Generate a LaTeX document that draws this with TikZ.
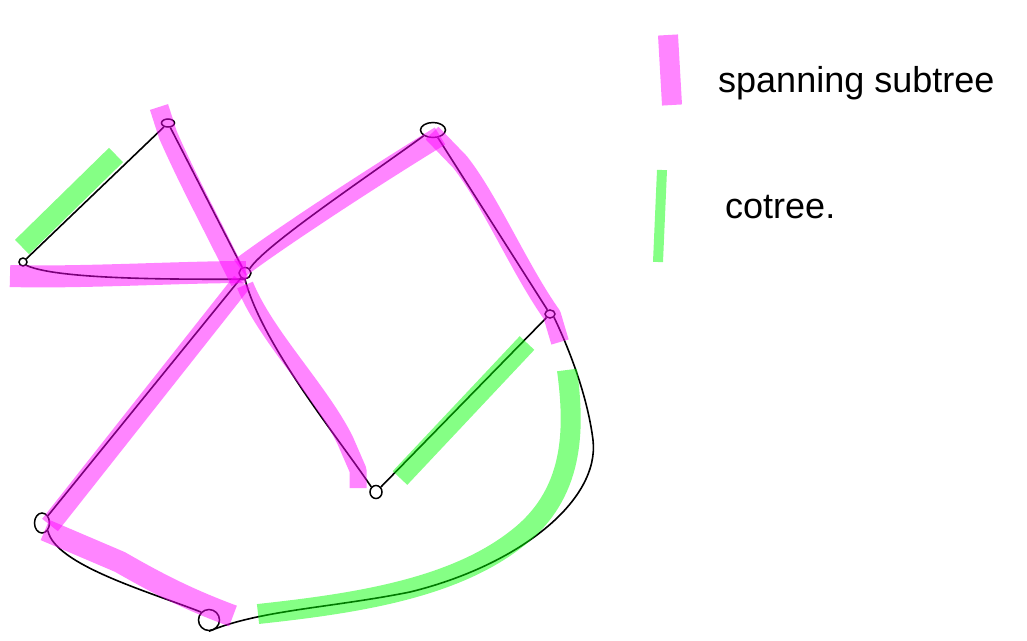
\documentclass[tikz,border=0pt]{standalone}
\usepackage{fontspec}
\setmainfont{Liberation Sans}
\usetikzlibrary{shapes.geometric}
\definecolor{hlpink}{RGB}{255,0,255}
\definecolor{hlgreen}{RGB}{0,255,0}
\begin{document}
\begin{tikzpicture}[x=1pt,y=-1pt,
  vtx/.style={draw,ellipse,inner sep=0pt,line width=1.5pt},
  edge/.style={line width=1.6pt,black},
  pink/.style={draw=hlpink,opacity=0.48,line width=19pt,line join=round},
  grn/.style={draw=hlgreen,opacity=0.48,line width=19pt,line join=round},
  lbl/.style={anchor=base west,inner sep=0pt,font=\fontsize{36}{40}\selectfont}]
\useasboundingbox (0,0) rectangle (1027,640);
% vertices
\node[vtx,minimum width=8pt,minimum height=8pt] (a) at (23,262) {};
\node[vtx,minimum width=13pt,minimum height=8pt] (b) at (168,123) {};
\node[vtx,minimum width=12pt,minimum height=11pt] (c) at (245,273) {};
\node[vtx,minimum width=25pt,minimum height=15pt] (d) at (433,130) {};
\node[vtx,minimum width=10pt,minimum height=8pt] (e) at (550,314) {};
\node[vtx,minimum width=12pt,minimum height=13pt] (f) at (376,492) {};
\node[vtx,minimum width=15pt,minimum height=20pt] (g) at (42,523) {};
\node[vtx,minimum width=21pt,minimum height=21pt] (h) at (209,620) {};
% edges
\draw[edge] (a) -- (b);
\draw[edge] (b) -- (c);
\draw[edge] (a.south east) .. controls (60,281) and (200,279) .. (c.south);
\draw[edge] (c.north east) .. controls (265,245) and (370,175) .. (d.south west);
\draw[edge] (d) -- (e);
\draw[edge] (e) -- (f);
\draw[edge] (c.south) .. controls (262,345) and (340,440) .. (f.north west);
\draw[edge] (c) -- (g);
\draw[edge] (g.south east) .. controls (55,565) and (150,592) .. (h.north west);
\draw[edge] (h.south) .. controls (260,610) and (330,608) .. (410,592)
  .. controls (520,565) and (600,500) .. (593,440)
  .. controls (588,400) and (572,355) .. (e.south east);
% spanning subtree highlights
\draw[pink] (159,107) -- (168,135) .. controls (190,185) and (215,230) .. (240,282);
\draw[pink,line width=22pt] (10,276) .. controls (80,278) and (180,272) .. (246,272);
\draw[pink,line width=20pt] (240,268) .. controls (270,245) and (360,185) .. (440,136);
\draw[pink,line width=18pt] (432,133) -- (460,162) .. controls (490,200) and (520,270) .. (552,315) -- (560,342);
\draw[pink,line width=17pt] (245,285) .. controls (265,335) and (320,390) .. (345,440) -- (358,470) -- (358,488);
\draw[pink,line width=20pt] (242,282) -- (50,525);
\draw[pink,line width=22pt] (45,530) -- (120,562) .. controls (160,585) and (190,600) .. (233,616);
% cotree highlights
\draw[grn,line width=20pt] (22,247) -- (116,155);
\draw[grn,line width=20pt] (527,343) -- (400,478);
\draw[grn,line width=20pt] (258,614) .. controls (350,604) and (450,590) .. (515,540) .. controls (575,495) and (575,430) .. (567,370);
% legend
\draw[pink,line width=20pt] (668,35) -- (672,105);
\draw[grn,line width=10pt] (662,170) -- (658,262);
\node[lbl] (t1) at (718,92) {spanning subtree};
\node[lbl] (t2) at (725,218) {cotree.};
\end{tikzpicture}
\end{document}
